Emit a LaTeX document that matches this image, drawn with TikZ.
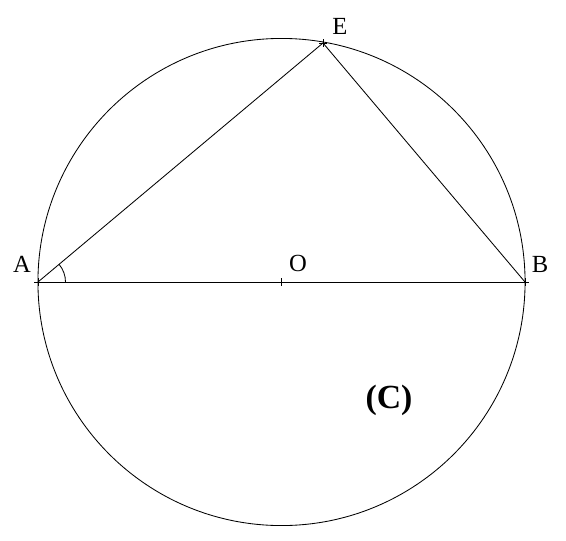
\documentclass[tikz,border=0pt]{standalone}
\usepackage{fontspec}
\setmainfont{Liberation Serif}
\usetikzlibrary{calc}

\begin{document}
\begin{tikzpicture}[x=0.025cm,y=-0.025cm,line width=0.6pt,
  lbl/.style={inner sep=0pt,font=\fontsize{17.5}{17.5}\selectfont}]
\useasboundingbox (0,0) rectangle (566,540);
\coordinate (O) at (281.5,282);
\coordinate (A) at (38,282);
\coordinate (B) at (525,282);
\coordinate (E) at (323,43);
\draw (O) circle [radius=6.0875cm];
\draw (A) -- (B);
\draw (A) -- (E) -- (B);
\draw ($(A)+(27.5,0)$) arc [start angle=0, end angle=40, radius=0.6875cm];
\foreach \p in {A,O,B,E} {\draw ($(\p)+(-4,0)$) -- ($(\p)+(4,0)$) ($(\p)+(0,-4)$) -- ($(\p)+(0,4)$);};
\node[lbl] (la) at (22,264) {A};
\node[lbl] (lb) at (540,264) {B};
\node[lbl] (lo) at (298,263) {O};
\node[lbl] (le) at (340,26) {E};
\node[inner sep=0pt,font=\fontsize{24}{24}\selectfont\bfseries] (lc) at (389,400) {(C)};
\end{tikzpicture}
\end{document}
